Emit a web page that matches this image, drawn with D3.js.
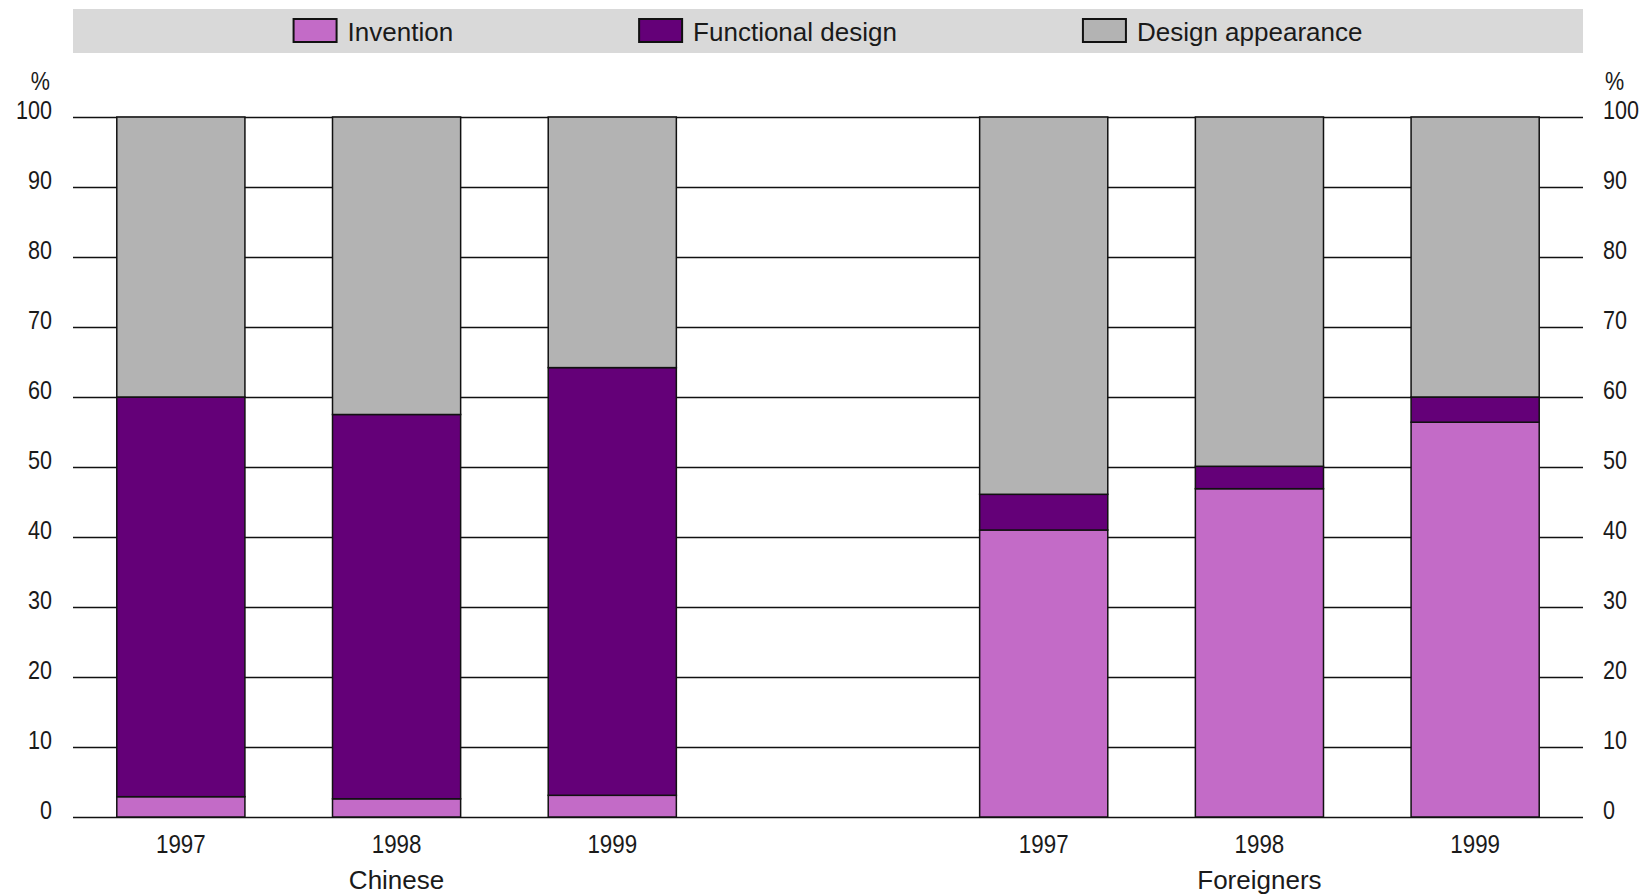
<!DOCTYPE html>
<html>
<head>
<meta charset="utf-8">
<script src="https://cdn.jsdelivr.net/npm/d3@7"></script>
<style>
  html, body { margin: 0; padding: 0; background: #fff; }
  svg { display: block; font-family: "Liberation Sans", Arial, Helvetica, sans-serif; }
  text { fill: #1a1a1a; }
</style>
</head>
<body>
<script>
// values (% of patents granted)
const years = ["1997", "1998", "1999"];
const groups = ["Chinese", "Foreigners"];
const seriesNames = ["Invention", "Functional design", "Design appearance"];
const seriesColors = ["#c36bc7", "#640078", "#b3b3b3"];

const invention  = [2.9, 2.6, 3.1, 41.0, 46.9, 56.4];
const functional = [57.1, 54.9, 61.1, 5.1, 3.2, 3.6];
const appearance = [40.0, 42.5, 35.8, 53.9, 49.9, 40.0];

const yTicks = [0, 10, 20, 30, 40, 50, 60, 70, 80, 90, 100];

const width = 1647;
const height = 895;
const plotLeft = 73;
const plotRight = 1583;
const DIGIT_SQUEEZE = 0.83; // digits in the original are a bit narrower

// one slot per bar, with an empty slot between the two groups
const rows = [];
groups.forEach((g, gi) => {
  years.forEach((yr, yi) => {
    const i = gi * years.length + yi;
    rows.push({
      key: g + yr, group: g, year: yr,
      "Invention": invention[i],
      "Functional design": functional[i],
      "Design appearance": appearance[i],
    });
  });
});
const slots = [rows[0].key, rows[1].key, rows[2].key, "gap", rows[3].key, rows[4].key, rows[5].key];

const x = d3.scaleBand()
  .domain(slots)
  .range([plotLeft, plotRight])
  .paddingInner(0.406)
  .paddingOuter(0.203);

const y = d3.scaleLinear().domain([0, 100]).range([817, 117]);

const colour = d3.scaleOrdinal().domain(seriesNames).range(seriesColors);

const svg = d3.select("body").append("svg")
  .attr("width", width)
  .attr("height", height);

// legend band
svg.append("rect")
  .attr("x", plotLeft).attr("y", 9)
  .attr("width", plotRight - plotLeft).attr("height", 44)
  .attr("fill", "#d9d9d9");

const legend = svg.append("g");
const items = legend.selectAll("g.item")
  .data(seriesNames)
  .join("g")
  .attr("class", "item");

items.append("rect")
  .attr("x", 0).attr("y", 19)
  .attr("width", 43).attr("height", 23)
  .attr("fill", d => colour(d))
  .attr("stroke", "#111")
  .attr("stroke-width", 2);

items.append("text")
  .attr("x", 54).attr("y", 41)
  .attr("font-size", 26)
  .text(d => d);

// lay legend items out with equal gaps, centred over the plot
const gap = 186;
const widths = [];
items.each(function() { widths.push(this.getBBox().width); });
const total = d3.sum(widths) + gap * (widths.length - 1);
let cursor = (plotLeft + plotRight) / 2 - total / 2;
items.attr("transform", (d, i) => {
  const t = `translate(${cursor},0)`;
  cursor += widths[i] + gap;
  return t;
});

// gridlines
svg.append("g")
  .attr("transform", `translate(${plotLeft},0)`)
  .call(d3.axisLeft(y).tickValues(yTicks).tickSize(-(plotRight - plotLeft)).tickFormat(""))
  .call(g => g.select(".domain").remove())
  .call(g => g.selectAll(".tick line").attr("stroke", "#111").attr("stroke-width", 1.6));

// stacked bars
const stack = d3.stack().keys(seriesNames);
const layers = stack(rows);

svg.append("g")
  .selectAll("g")
  .data(layers)
  .join("g")
  .attr("fill", d => colour(d.key))
  .selectAll("rect")
  .data(d => d)
  .join("rect")
  .attr("x", d => x(d.data.key))
  .attr("y", d => y(d[1]))
  .attr("width", x.bandwidth())
  .attr("height", d => y(d[0]) - y(d[1]))
  .attr("stroke", "#111")
  .attr("stroke-width", 1.5);

// y tick labels on both sides
const leftLabels = svg.append("g");
leftLabels.selectAll("text")
  .data(yTicks)
  .join("text")
  .attr("text-anchor", "end")
  .attr("font-size", 26)
  .attr("transform", d => `translate(52,${y(d) + 2}) scale(${DIGIT_SQUEEZE},1)`)
  .text(d => d);

const rightLabels = svg.append("g");
rightLabels.selectAll("text")
  .data(yTicks)
  .join("text")
  .attr("text-anchor", "start")
  .attr("font-size", 26)
  .attr("transform", d => `translate(1603,${y(d) + 2}) scale(${DIGIT_SQUEEZE},1)`)
  .text(d => d);

svg.append("text")
  .attr("text-anchor", "end")
  .attr("font-size", 26)
  .attr("transform", `translate(50,90) scale(${DIGIT_SQUEEZE},1)`)
  .text("%");

svg.append("text")
  .attr("text-anchor", "start")
  .attr("font-size", 26)
  .attr("transform", `translate(1605,90) scale(${DIGIT_SQUEEZE},1)`)
  .text("%");

// year labels
svg.append("g")
  .selectAll("text")
  .data(rows)
  .join("text")
  .attr("text-anchor", "middle")
  .attr("font-size", 26)
  .attr("transform", d => `translate(${x(d.key) + x.bandwidth() / 2},853) scale(${DIGIT_SQUEEZE + 0.03},1)`)
  .text(d => d.year);

// group labels, under the middle bar of each group
svg.append("g")
  .selectAll("text")
  .data(groups)
  .join("text")
  .attr("text-anchor", "middle")
  .attr("font-size", 26)
  .attr("x", g => x(g + years[1]) + x.bandwidth() / 2)
  .attr("y", 889)
  .text(g => g);
</script>
</body>
</html>
